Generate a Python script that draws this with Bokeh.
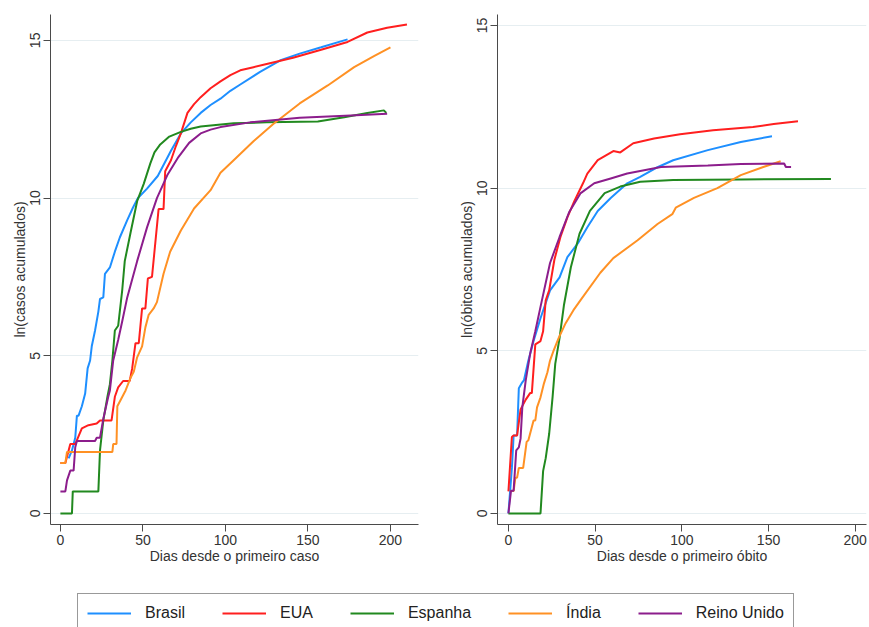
from bokeh.plotting import figure
from bokeh.layouts import column, row
from bokeh.models import FixedTicker, Legend, LegendItem, Range1d
from bokeh.embed import file_html
from bokeh.resources import INLINE

# ---------------- data: ln(cumulative cases) vs days since first case ----------------
countries = ["Brasil", "EUA", "Espanha", "Índia", "Reino Unido"]
colors = ["#1e8fff", "#ff1f1f", "#21891f", "#ff9124", "#8c1d8c"]

cases_brasil_days = [5, 7, 9, 10, 11, 13, 15, 16.5, 18, 19, 21, 23, 24, 26, 27, 30, 33, 36, 40.5, 44, 47, 52.5, 59, 67, 73, 79, 85, 91, 97, 103, 109, 121, 133, 145, 158, 174]
cases_brasil_vals = [1.75, 2.0, 2.4, 3.1, 3.1, 3.4, 3.8, 4.6, 4.85, 5.3, 5.8, 6.4, 6.8, 6.85, 7.6, 7.8, 8.3, 8.75, 9.3, 9.7, 10.0, 10.3, 10.7, 11.5, 12.05, 12.4, 12.7, 12.95, 13.15, 13.4, 13.6, 14.0, 14.36, 14.58, 14.78, 15.03]

cases_eua_days = [0, 3, 6, 9, 13, 17, 22, 24, 31, 33, 35, 38, 42, 43.5, 45.5, 47.5, 49.5, 51.5, 53, 55.5, 59.5, 62.5, 63.5, 67, 70, 73, 77, 81, 85, 91, 97, 103, 109, 117, 125, 141, 158, 174, 186, 198, 210]
cases_eua_vals = [1.6, 1.6, 2.2, 2.2, 2.7, 2.8, 2.85, 2.95, 2.95, 3.7, 4.0, 4.2, 4.2, 4.6, 5.4, 5.4, 6.5, 6.5, 7.45, 7.5, 9.65, 9.65, 10.85, 11.2, 11.65, 12.05, 12.7, 12.98, 13.2, 13.48, 13.7, 13.9, 14.05, 14.15, 14.25, 14.45, 14.7, 14.95, 15.25, 15.4, 15.5]

cases_espanha_days = [0, 7, 7.5, 23, 24, 26, 28.5, 30, 31.5, 33, 35, 37.5, 39, 42.5, 46.5, 50.5, 54.5, 57, 60.5, 66, 73, 79, 85, 105, 125, 156, 172, 186, 196, 197.5]
cases_espanha_vals = [0, 0, 0.7, 0.7, 2.0, 2.95, 3.7, 4.1, 4.85, 5.8, 5.95, 7.1, 8.0, 8.9, 9.9, 10.45, 11.1, 11.45, 11.7, 11.95, 12.1, 12.2, 12.27, 12.37, 12.4, 12.43, 12.56, 12.7, 12.78, 12.7]

cases_india_days = [0, 3, 4, 31.5, 32, 34, 34.5, 36.5, 39.5, 42.5, 44.5, 46.5, 49.5, 51.5, 53.5, 56.5, 58.5, 62.5, 66.5, 73, 81, 91, 97, 105, 117, 129, 145, 162, 178, 190, 200]
cases_india_vals = [1.6, 1.6, 1.95, 1.95, 2.2, 2.2, 3.4, 3.6, 3.9, 4.3, 4.5, 4.95, 5.3, 5.9, 6.3, 6.5, 6.7, 7.6, 8.3, 8.97, 9.67, 10.25, 10.8, 11.2, 11.8, 12.35, 13.0, 13.57, 14.15, 14.5, 14.78]

cases_ru_days = [0, 3, 4, 6, 8, 9, 10, 14, 21, 22, 24, 26, 29, 30, 32, 35, 37.5, 40.5, 46.5, 52.5, 58.5, 65, 71.5, 78, 85, 91, 97, 115, 145, 176, 198]
cases_ru_vals = [0.7, 0.7, 1.05, 1.36, 1.36, 2.1, 2.3, 2.3, 2.3, 2.4, 2.4, 3.0, 3.7, 3.9, 4.85, 5.5, 6.1, 6.85, 8.0, 9.07, 10.0, 10.75, 11.3, 11.75, 12.05, 12.17, 12.25, 12.4, 12.55, 12.62, 12.67]

# ---------------- data: ln(cumulative deaths) vs days since first death ----------------
deaths_brasil_days = [0, 1, 2, 3, 5, 6, 8, 9, 11.5, 14.5, 18.5, 24, 29.5, 34, 40, 45.5, 51.5, 59, 68.5, 76, 85, 95, 115, 134, 152]
deaths_brasil_vals = [0, 0.7, 1.4, 2.4, 2.4, 3.85, 4.03, 4.1, 4.7, 5.3, 6.0, 6.86, 7.26, 7.88, 8.3, 8.8, 9.3, 9.7, 10.15, 10.35, 10.62, 10.86, 11.17, 11.42, 11.6]

deaths_eua_days = [0, 2, 3, 5, 7, 10, 12.5, 13.5, 15.5, 18.5, 20, 21.5, 23.5, 26.5, 30, 34, 38, 43, 45.5, 51.5, 60.5, 64.5, 72, 84, 99, 118, 141, 153, 167]
deaths_eua_vals = [0.68, 2.35, 2.4, 2.4, 3.2, 3.5, 3.7, 3.7, 5.2, 5.3, 5.6, 6.55, 6.86, 7.8, 8.5, 9.1, 9.6, 10.15, 10.45, 10.86, 11.14, 11.1, 11.38, 11.53, 11.66, 11.78, 11.88, 11.97, 12.06]

deaths_espanha_days = [0, 18.5, 20, 21.5, 23.5, 25.5, 27, 29.5, 32, 36, 41, 47, 55.5, 64.5, 76, 95, 134, 186]
deaths_espanha_vals = [0, 0, 1.3, 1.7, 2.45, 3.6, 4.6, 5.4, 6.4, 7.57, 8.6, 9.3, 9.85, 10.05, 10.2, 10.25, 10.27, 10.28]

deaths_india_days = [1, 3, 4, 5, 6, 8.5, 10.5, 11.5, 14.5, 15.5, 16.5, 18.5, 20.5, 22.5, 24, 26, 29, 33, 37.5, 41.5, 53, 60.5, 74.5, 86, 94.5, 96.5, 107, 120.5, 134, 147, 157]
deaths_india_vals = [0.69, 0.69, 1.1, 1.1, 1.4, 1.4, 2.2, 2.25, 2.86, 2.86, 3.26, 3.57, 4.0, 4.34, 4.7, 5.0, 5.4, 5.85, 6.25, 6.55, 7.4, 7.85, 8.4, 8.9, 9.2, 9.4, 9.7, 10.0, 10.4, 10.65, 10.83]

deaths_ru_days = [0, 1.5, 3, 4.5, 6, 7, 8, 10, 12.5, 15.5, 18.5, 24, 29.5, 35, 41.5, 49.5, 59, 68.5, 88, 115, 134, 159, 160, 163]
deaths_ru_vals = [0, 0.7, 0.7, 1.94, 2.03, 2.3, 3.26, 4.1, 4.9, 5.6, 6.35, 7.7, 8.5, 9.26, 9.84, 10.15, 10.3, 10.45, 10.65, 10.7, 10.74, 10.76, 10.65, 10.65]

x_ticks = [0, 50, 100, 150, 200]
y_ticks = [0, 5, 10, 15]

cases_series = [
    (cases_brasil_days, cases_brasil_vals),
    (cases_eua_days, cases_eua_vals),
    (cases_espanha_days, cases_espanha_vals),
    (cases_india_days, cases_india_vals),
    (cases_ru_days, cases_ru_vals),
]
deaths_series = [
    (deaths_brasil_days, deaths_brasil_vals),
    (deaths_eua_days, deaths_eua_vals),
    (deaths_espanha_days, deaths_espanha_vals),
    (deaths_india_days, deaths_india_vals),
    (deaths_ru_days, deaths_ru_vals),
]

FONT = "Liberation Sans"


def style(p, xlabel, ylabel):
    p.outline_line_color = None
    p.background_fill_color = "white"
    p.border_fill_color = "white"
    p.xgrid.grid_line_color = None
    p.ygrid.grid_line_color = "#e6eef1"
    p.ygrid.grid_line_width = 1
    p.xaxis.ticker = FixedTicker(ticks=x_ticks)
    p.yaxis.ticker = FixedTicker(ticks=y_ticks)
    for ax in (p.xaxis[0], p.yaxis[0]):
        ax.axis_line_color = "#4a4a4a"
        ax.axis_line_width = 1
        ax.major_tick_line_color = "#4a4a4a"
        ax.major_tick_out = 7
        ax.major_tick_in = 0
        ax.minor_tick_line_color = None
        ax.major_label_text_font = FONT
        ax.major_label_text_font_size = "14px"
        ax.major_label_text_color = "#333333"
        ax.axis_label_text_font = FONT
        ax.axis_label_text_font_size = "14px"
        ax.axis_label_text_font_style = "normal"
        ax.axis_label_text_color = "#333333"
        ax.major_label_standoff = 3
        ax.axis_label_standoff = 0
    p.xaxis.axis_label = xlabel
    p.yaxis.axis_label = ylabel
    p.yaxis.major_label_orientation = "vertical"


p1 = figure(width=444, height=584, output_backend="svg", toolbar_location=None,
            x_range=Range1d(-6, 217), y_range=Range1d(-0.35, 15.82),
            min_border_left=50, min_border_right=26, min_border_top=14, min_border_bottom=60)
style(p1, "Dias desde o primeiro caso", "ln(casos acumulados)")
for (d, v), c in zip(cases_series, colors):
    p1.line(d, v, line_color=c, line_width=2)

p2 = figure(width=425, height=584, output_backend="svg", toolbar_location=None,
            x_range=Range1d(-6.3, 206.5), y_range=Range1d(-0.34, 15.34),
            min_border_left=53, min_border_right=3, min_border_top=14, min_border_bottom=60)
style(p2, "Dias desde o primeiro óbito", "ln(óbitos acumulados)")
for (d, v), c in zip(deaths_series, colors):
    p2.line(d, v, line_color=c, line_width=2)

# legend strip (its sample renderers reuse the case series, kept outside the visible range)
p3 = figure(width=869, height=43, output_backend="svg", toolbar_location=None,
            x_range=Range1d(-1000, -999), y_range=Range1d(-1000, -999),
            min_border_left=0, min_border_right=0, min_border_top=0, min_border_bottom=0)
p3.axis.visible = False
p3.grid.visible = False
p3.outline_line_color = None
items = []
for name, (d, v), c in zip(countries, cases_series, colors):
    r = p3.line(d, v, line_color=c, line_width=2)
    items.append(LegendItem(label=name, renderers=[r]))
leg = Legend(items=items, orientation="horizontal", location=(77, -6),
             label_text_font=FONT, label_text_font_size="16px", label_text_color="#222222",
             glyph_width=44, glyph_height=20, label_standoff=14, spacing=37,
             padding=9, margin=0, border_line_color="#333333", border_line_width=1,
             background_fill_color="white", background_fill_alpha=1)
p3.add_layout(leg, "center")

layout = column(row(p1, p2), p3)
open("out.html", "w").write(file_html(layout, INLINE))
